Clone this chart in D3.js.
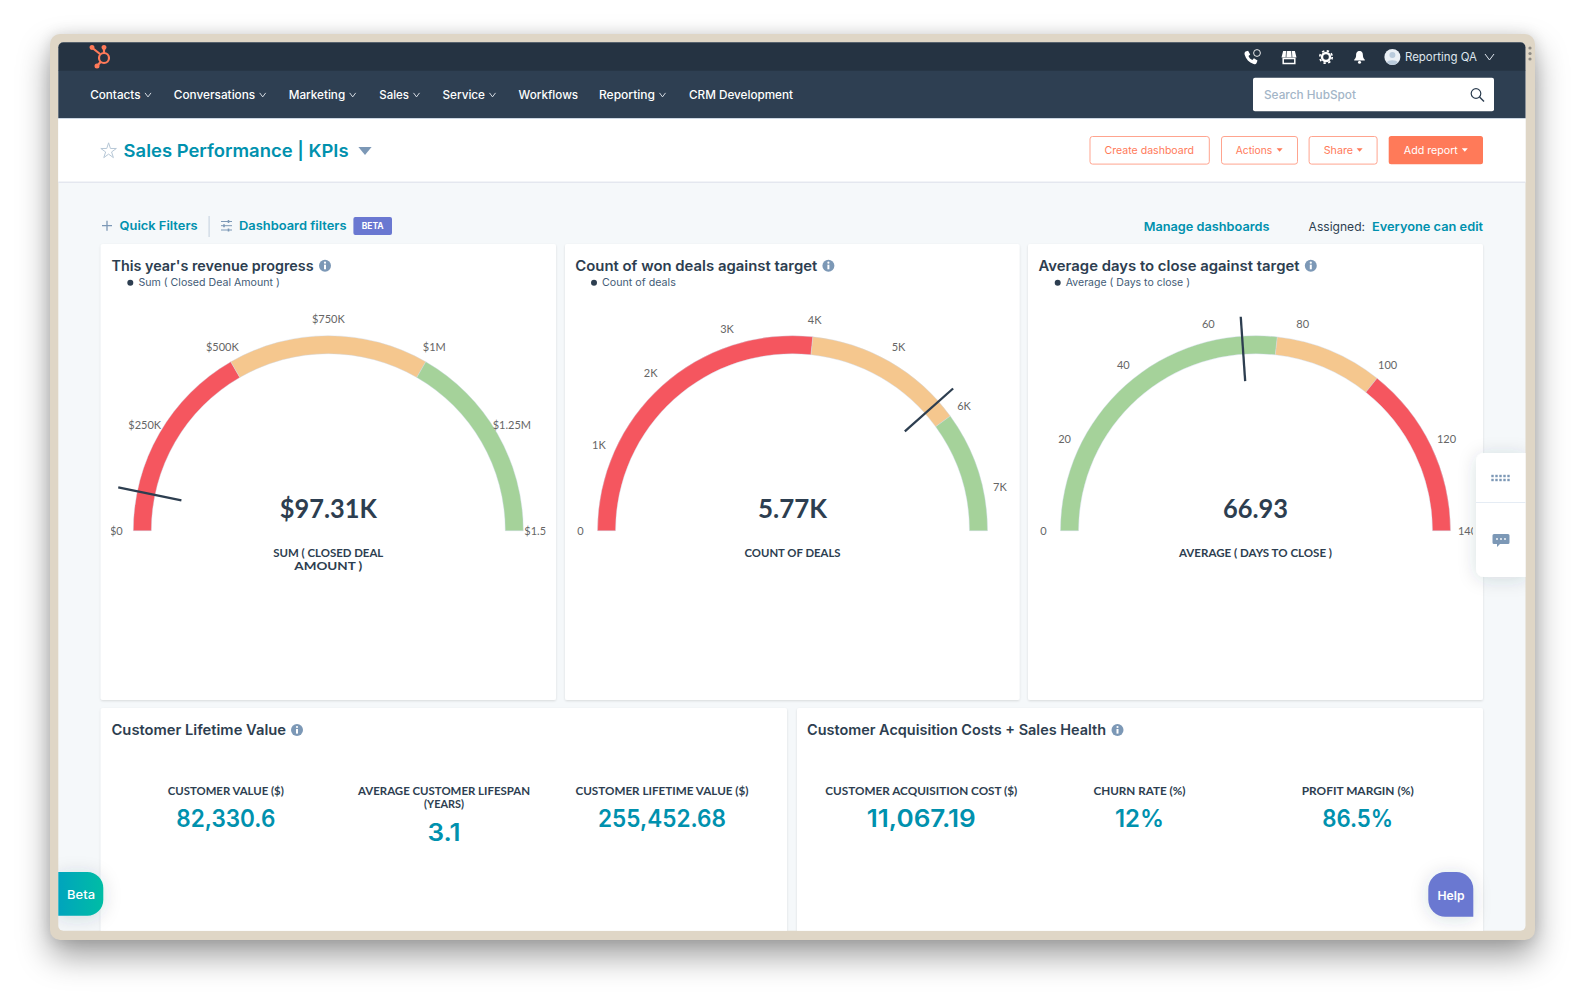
<!DOCTYPE html>
<html><head><meta charset="utf-8">
<script src="https://cdn.jsdelivr.net/npm/d3@7/dist/d3.min.js"></script>
<style>
html,body{margin:0;padding:0;background:#fff;width:1584px;height:1005px;overflow:hidden}
#frame{position:absolute;left:50px;top:33.5px;width:1485px;height:906px;border-radius:10px;background:#dfd6c6;box-shadow:0 16px 32px rgba(0,0,0,.38),0 0 14px rgba(0,0,0,.12)}
svg{position:absolute;left:0;top:0}
</style></head><body>
<div id="frame"></div>
<svg id="chart" width="1584" height="1005"></svg>
<script>
// ---- data ----
const revenueTicks = [0,250000,500000,750000,1000000,1250000,1500000];
const revenueLabels = ["$0","$250K","$500K","$750K","$1M","$1.25M","$1.5M"];
const revenueBands = [0,500000,1000000,1500000];
const revenueColors = ["red","yellow","green"];
const revenueValue = 97310;

const dealsTicks = [0,1000,2000,3000,4000,5000,6000,7000];
const dealsLabels = ["0","1K","2K","3K","4K","5K","6K","7K"];
const dealsBands = [0,4000,6000,7500];
const dealsColors = ["red","yellow","green"];
const dealsValue = 5770;

const daysTicks = [0,20,40,60,80,100,120,140];
const daysLabels = ["0","20","40","60","80","100","120","140"];
const daysBands = [0,75,100,140];
const daysColors = ["green","yellow","red"];
const daysValue = 66.93;

const gaugeTitles = ["This year's revenue progress","Count of won deals against target","Average days to close against target"];
const gaugeLegends = ["Sum ( Closed Deal Amount )","Count of deals","Average ( Days to close )"];
const gaugeReadouts = ["$97.31K","5.77K","66.93"];
const gaugeCaptions = [["SUM ( CLOSED DEAL","AMOUNT )"],["COUNT OF DEALS"],["AVERAGE ( DAYS TO CLOSE )"]];

const kpiLabels = [["CUSTOMER VALUE ($)"],["AVERAGE CUSTOMER LIFESPAN","(YEARS)"],["CUSTOMER LIFETIME VALUE ($)"],["CUSTOMER ACQUISITION COST ($)"],["CHURN RATE (%)"],["PROFIT MARGIN (%)"]];
const kpiValues = ["82,330.6","3.1","255,452.68","11,067.19","12%","86.5%"];

const navItems = ["Contacts","Conversations","Marketing","Sales","Service","Workflows","Reporting","CRM Development"];
const navHasMenu = [1,1,1,1,1,0,1,0];

// ---- layout & style ----
const palette = {red:"#f5565f",yellow:"#f5c78e",green:"#a5d29a"};
const ink="#2d3e50", teal="#0091ae", coral="#ff7a59", slate="#7c98b6";
const body="Lato, 'Open Sans', sans-serif";
const head="Inter, Lato, sans-serif";
const svg=d3.select("#chart");

function T(p,str,x,y,o={}){
  const s=p.append("text").text(str).attr("x",x).attr("y",y).attr("dy",".35em")
   .attr("font-family",o.font||head).attr("font-size",o.size||12).attr("font-weight",o.weight||400)
   .attr("fill",o.fill||ink).attr("text-anchor",o.anchor||"start");
  if(o.w) s.attr("textLength",o.w).attr("lengthAdjust","spacingAndGlyphs");
  if(o.ls) s.attr("letter-spacing",o.ls);
  return s;
}
function chev(p,x,y,w,col,sw){p.append("path").attr("d",`M${x} ${y-w/3}L${x+w/2} ${y+w/3}L${x+w} ${y-w/3}`).attr("fill","none").attr("stroke",col).attr("stroke-width",sw||1);}
function caret(p,x,y,col,w=6){p.append("path").attr("d",`M${x} ${y-w*.3}H${x+w}L${x+w/2} ${y+w*.3}Z`).attr("fill",col);}
function info(p,x,y){p.append("circle").attr("cx",x).attr("cy",y).attr("r",6).attr("fill",slate);
  p.append("rect").attr("x",x-1).attr("y",y-1).attr("width",2).attr("height",4.6).attr("fill","#fff");
  p.append("circle").attr("cx",x).attr("cy",y-3).attr("r",1.1).attr("fill","#fff");}

const defs=svg.append("defs");
const gb=defs.append("linearGradient").attr("id","betaGrad");
gb.append("stop").attr("offset","0").attr("stop-color","#00a4bd");
gb.append("stop").attr("offset","1").attr("stop-color","#00bda5");
const sh=defs.append("filter").attr("id","soft").attr("x","-30%").attr("y","-30%").attr("width","160%").attr("height","160%");
sh.append("feDropShadow").attr("dx",0).attr("dy",1).attr("stdDeviation",1.2).attr("flood-color","#000").attr("flood-opacity",.12);
const sh2=defs.append("filter").attr("id","float").attr("x","-60%").attr("y","-40%").attr("width","220%").attr("height","180%");
sh2.append("feDropShadow").attr("dx",0).attr("dy",2).attr("stdDeviation",9).attr("flood-color","#2d3e50").attr("flood-opacity",.16);
defs.append("clipPath").attr("id","screen").append("rect").attr("x",58.3).attr("y",42.3).attr("width",1467.2).attr("height",888.4).attr("rx",5);

const screen=svg.append("g").attr("clip-path","url(#screen)");
screen.append("rect").attr("x",58).attr("y",42).attr("width",1468).attr("height",889).attr("fill","#f5f8fa");
screen.append("rect").attr("x",58).attr("y",42).attr("width",1468).attr("height",29).attr("fill","#253342");
screen.append("rect").attr("x",58).attr("y",70.7).attr("width",1468).attr("height",47.6).attr("fill","#2e3f52");
screen.append("rect").attr("x",58).attr("y",118.3).attr("width",1468).attr("height",64).attr("fill","#fff");
screen.append("rect").attr("x",58).attr("y",118).attr("width",1468).attr("height",1).attr("fill","#cbd6e2");
screen.append("rect").attr("x",58).attr("y",181.6).attr("width",1468).attr("height",1.2).attr("fill","#dfe3eb");

// logo
const logo=screen.append("g").attr("fill","none").attr("stroke",coral).attr("stroke-width",2.2);
logo.append("circle").attr("cx",104).attr("cy",58).attr("r",5);
logo.append("path").attr("d","M92.5 48L100 54M104 53V48.5M100.5 62L97.5 65.5");
logo.append("circle").attr("cx",92).attr("cy",47.5).attr("r",1.4).attr("fill",coral);
logo.append("circle").attr("cx",104).attr("cy",47.5).attr("r",1.4).attr("fill",coral);
logo.append("circle").attr("cx",97).attr("cy",66).attr("r",1.4).attr("fill",coral);

// nav
const navX=[90.2,173.8,288.7,379.3,442.5,518.6,599,689], navW=[50.3,81.4,56.5,29.7,42.5,59.5,56,104];
navItems.forEach((n,i)=>{T(screen,n,navX[i],94.7,{size:11.5,weight:500,fill:"#fff",w:navW[i]});
  if(navHasMenu[i]) chev(screen,navX[i]+navW[i]+4.5,94.9,6,"#e5eaf0",.9);});

// top right icons
const ic=screen.append("g");
ic.append("path").attr("d","M1245.5 51.5l2.6-.8 2.1 3.9-1.7 1.4c.7 1.9 2 3.2 3.9 4l1.5-1.7 3.6 2.2-.9 2.5c-.4 1-2 1.5-3 1.1-4.7-1.6-7.6-4.7-9-9.6-.2-1.2.1-2.5 1-3z").attr("fill","#fff");
ic.append("circle").attr("cx",1257).attr("cy",53).attr("r",3.4).attr("fill","none").attr("stroke","#fff").attr("stroke-width",.9);
ic.append("path").attr("d","M1281.5 57.5l1.6-6.5h11.8l1.6 6.5z").attr("fill","#fff");
ic.append("path").attr("d","M1286.6 51l-.6 6.5M1291.4 51l.6 6.5").attr("stroke","#253342").attr("stroke-width",.7);
ic.append("rect").attr("x",1283.2).attr("y",58.5).attr("width",11.6).attr("height",5).attr("fill","none").attr("stroke","#fff").attr("stroke-width",1.5);
ic.append("circle").attr("cx",1326).attr("cy",57).attr("r",4).attr("fill","none").attr("stroke","#fff").attr("stroke-width",2.4);
ic.append("circle").attr("cx",1326).attr("cy",57).attr("r",6.2).attr("fill","none").attr("stroke","#fff").attr("stroke-width",1.7).attr("stroke-dasharray","2.4 2.47");
ic.append("path").attr("d","M1359.5 51c-2.8 0-3.4 2.3-3.4 4.3 0 2.6-1.3 3.7-1.9 4.5v.7h10.6v-.7c-.6-.8-1.9-1.9-1.9-4.5 0-2-.6-4.3-3.4-4.3z").attr("fill","#fff");
ic.append("circle").attr("cx",1359.5).attr("cy",62.3).attr("r",1.5).attr("fill","#fff");
ic.append("circle").attr("cx",1392.4).attr("cy",57).attr("r",8).attr("fill","#eaf0f6");
ic.append("circle").attr("cx",1392.4).attr("cy",55).attr("r",3).attr("fill","#b9cbdc");
ic.append("path").attr("d","M1386.8 62.6c1-3 9.8-3 11.2 0a8 8 0 0 1-11.2 0z").attr("fill","#b9cbdc");
T(screen,"Reporting QA",1405,57,{size:11.5,fill:"#dfe6ee",w:72});
chev(screen,1485,57,9,"#dfe6ee",1);

// search
screen.append("rect").attr("x",1253).attr("y",77.7).attr("width",241).attr("height",33.6).attr("rx",2).attr("fill","#fff");
T(screen,"Search HubSpot",1264,95,{size:11.5,fill:"#a3b5c7",weight:500,w:92});
screen.append("circle").attr("cx",1476).attr("cy",93.5).attr("r",4.8).attr("fill","none").attr("stroke",ink).attr("stroke-width",1.2);
screen.append("path").attr("d","M1479.5 97L1484 101.5").attr("stroke",ink).attr("stroke-width",1.4);

// header
screen.append("path").attr("d",d3.symbol(d3.symbolStar,75)()).attr("transform","translate(108.6,151)").attr("fill","none").attr("stroke","#b6c7d6").attr("stroke-width",1);
T(screen,"Sales Performance | KPIs",123.6,150.5,{size:17.5,weight:600,fill:teal,w:225});
screen.append("path").attr("d","M358.4 147H371.6L365 155Z").attr("fill",slate);

const btns=[["Create dashboard",1089.5,120.3,1104.5,89.5,0],["Actions",1221,77,1235.7,36.5,1276.6],["Share",1308.6,69,1323.7,29.3,1356.6]];
btns.forEach(b=>{screen.append("rect").attr("x",b[1]+.5).attr("y",136.5).attr("width",b[2]-1).attr("height",27.6).attr("rx",2.5).attr("fill","#fff").attr("stroke","#ffa48f");
  T(screen,b[0],b[3],150.5,{size:10.5,fill:coral,w:b[4]}); if(b[5]) caret(screen,b[5],150,coral,6);});
screen.append("rect").attr("x",1388.7).attr("y",136).attr("width",94.3).attr("height",28.3).attr("rx",2.5).attr("fill",coral);
T(screen,"Add report",1403.8,150.5,{size:10.5,fill:"#fff",w:54}); caret(screen,1461.8,150,"#fff",6);

// filters row
screen.append("path").attr("d","M107 220.7v10M102 225.7h10").attr("stroke",slate).attr("stroke-width",1.3);
T(screen,"Quick Filters",119.6,225.7,{size:12,weight:600,fill:teal,w:78});
screen.append("rect").attr("x",208.5).attr("y",216).attr("width",1.2).attr("height",21).attr("fill","#cbd6e2");
screen.append("path").attr("d","M221 221.5h11M221 225.7h11M221 230h11").attr("stroke",slate).attr("stroke-width",1);
screen.append("path").attr("d","M228.5 220v3M224 224.2v3M228.5 228.5v3").attr("stroke",slate).attr("stroke-width",1.6);
T(screen,"Dashboard filters",239,225.7,{size:12,weight:600,fill:teal,w:107.5});
screen.append("rect").attr("x",353.4).attr("y",217).attr("width",38.6).attr("height",18).attr("rx",2).attr("fill","#6a78d1");
T(screen,"BETA",361.7,226.2,{size:8.5,weight:700,fill:"#fff",w:22});
T(screen,"Manage dashboards",1143.7,226.7,{size:12,weight:600,fill:teal,w:125.8});
T(screen,"Assigned:",1308.6,226.7,{size:12,fill:ink,w:56.4});
T(screen,"Everyone can edit",1372,226.7,{size:12,weight:600,fill:teal,w:111});

// cards
const cards=[[100.7,244,455.3,456],[565,244,454.6,456],[1028,244,455,456],[100.7,708,686.3,240],[797,708,686,240]];
screen.selectAll("rect.card").data(cards).join("rect").attr("class","card")
 .attr("x",d=>d[0]).attr("y",d=>d[1]).attr("width",d=>d[2]).attr("height",d=>d[3]).attr("rx",2).attr("fill","#fff").attr("filter","url(#soft)");

// gauges
const gaugeDefs=[
 {cx:328.3,ticks:revenueTicks,labels:revenueLabels,bands:revenueBands,colors:revenueColors,value:revenueValue,tx:111.5,tw:202.1,ix:325,dx:130.3,lx:138.4,lw:141.4,rw:97,cw:[110,68]},
 {cx:792.5,ticks:dealsTicks,labels:dealsLabels,bands:dealsBands,colors:dealsColors,value:dealsValue,tx:575.3,tw:242,ix:828.4,dx:594,lx:602,lw:73.8,rw:69,cw:[96]},
 {cx:1255.5,ticks:daysTicks,labels:daysLabels,bands:daysBands,colors:daysColors,value:daysValue,tx:1038.5,tw:261,ix:1310.8,dx:1057.7,lx:1065.8,lw:124.2,rw:65,cw:[153]}
];
const cy=530.7, R=195, r0=177, rLabel=212, needleIn=150, needleOut=214.5;
gaugeDefs.forEach((g,i)=>{
  T(screen,gaugeTitles[i],g.tx,265.7,{size:14,weight:600,fill:ink,w:g.tw});
  info(screen,g.ix,265.7);
  screen.append("circle").attr("cx",g.dx).attr("cy",282.8).attr("r",3).attr("fill",ink);
  T(screen,gaugeLegends[i],g.lx,282.3,{size:10.5,fill:"#425b76",w:g.lw});

  const dom=g.bands[g.bands.length-1];
  const ang=d3.scaleLinear().domain([0,dom]).range([-Math.PI/2,Math.PI/2]);
  const cid="gclip"+i;
  defs.append("clipPath").attr("id",cid).append("rect").attr("x",-217.5).attr("y",-230).attr("width",435).attr("height",250);
  const gg=screen.append("g").attr("transform",`translate(${g.cx},${cy})`);
  const arc=d3.arc().innerRadius(r0).outerRadius(R);
  gg.selectAll("path.band").data(d3.pairs(g.bands)).join("path").attr("class","band")
    .attr("d",d=>arc({startAngle:ang(d[0]),endAngle:ang(d[1])}))
    .attr("fill",(d,k)=>palette[g.colors[k]]).attr("stroke","#cdd8ec").attr("stroke-width",.4);
  const lab=gg.append("g").attr("clip-path",`url(#${cid})`);
  lab.selectAll("text").data(g.ticks).join("text")
    .attr("x",d=>rLabel*Math.sin(ang(d))).attr("y",d=>-rLabel*Math.cos(ang(d))).attr("dy",".37em")
    .attr("text-anchor","middle").attr("font-family",body).attr("font-size",11).attr("fill","#666")
    .text((d,k)=>g.labels[k]);
  const a=ang(g.value);
  gg.append("line").attr("x1",needleIn*Math.sin(a)).attr("y1",-needleIn*Math.cos(a))
    .attr("x2",needleOut*Math.sin(a)).attr("y2",-needleOut*Math.cos(a))
    .attr("stroke",ink).attr("stroke-width",2.3);
  T(gg,gaugeReadouts[i],-g.rw/2,-22,{size:26,weight:700,fill:ink,font:body,w:g.rw});
  gaugeCaptions[i].forEach((c,k)=>T(gg,c,-g.cw[k]/2,22.6+k*13.4,{size:10.5,weight:700,fill:ink,font:body,w:g.cw[k]}));
});

// bottom cards
T(screen,"Customer Lifetime Value",111.5,730,{size:14,weight:600,w:174.5}); info(screen,297,730);
T(screen,"Customer Acquisition Costs + Sales Health",807,730,{size:14,weight:600,w:299}); info(screen,1117.5,730);
const kpiX=[225.8,444,662,921.3,1139.5,1357.7];
const kpiLabelW=[[116],[172,40],[173],[192],[92],[112]];
const kpiValueW=[99,33,128,109,49,71];
kpiValues.forEach((v,i)=>{
  kpiLabels[i].forEach((l,k)=>T(screen,l,kpiX[i]-kpiLabelW[i][k]/2,791+k*13.4,{size:10.5,weight:700,font:body,w:kpiLabelW[i][k]}));
  T(screen,v,kpiX[i]-kpiValueW[i]/2,791+(kpiLabels[i].length-1)*13.4+27.8,{size:24,weight:600,fill:teal,w:kpiValueW[i]});
});

// side panel
const side=screen.append("g");
side.append("path").attr("d","M1526 453H1484a8 8 0 0 0 -8 8V569a8 8 0 0 0 8 8H1526Z").attr("fill","#fff").attr("filter","url(#float)");
side.append("rect").attr("x",1476).attr("y",502).attr("width",50).attr("height",1).attr("fill","#e5ecf4");
[476,480].forEach(y=>[1492.5,1496.5,1500.5,1504.5,1508.5].forEach(x=>side.append("rect").attr("x",x-1.2).attr("y",y-1.2).attr("width",2.4).attr("height",2.4).attr("fill",slate)));
side.append("path").attr("d","M1494 534h14a1.5 1.5 0 0 1 1.5 1.5v7a1.5 1.5 0 0 1-1.5 1.5h-8l-3 3v-3h-3a1.5 1.5 0 0 1-1.5-1.5v-7a1.5 1.5 0 0 1 1.5-1.5z").attr("fill",slate);
[1497,1501,1505].forEach(x=>side.append("circle").attr("cx",x).attr("cy",539).attr("r",.9).attr("fill","#fff"));

// floating buttons
screen.append("path").attr("d","M58 872H87.3a16 16 0 0 1 16 16V899.7a16 16 0 0 1-16 16H58Z").attr("fill","url(#betaGrad)").attr("filter","url(#float)");
T(screen,"Beta",67,894.5,{size:12,weight:500,fill:"#fff",w:28});
screen.append("path").attr("d","M1473.3 916.7H1445.3a17 17 0 0 1 -17 -17V889a17 17 0 0 1 17 -17H1456.3a17 17 0 0 1 17 17Z").attr("fill","#6a78d1").attr("filter","url(#float)");
T(screen,"Help",1437.5,895.5,{size:12,weight:600,fill:"#fff",w:27});

// window grip
[48,53.5,59].forEach(y=>svg.append("circle").attr("cx",1530).attr("cy",y).attr("r",1.6).attr("fill","#8d8a84"));
</script>
</body></html>
